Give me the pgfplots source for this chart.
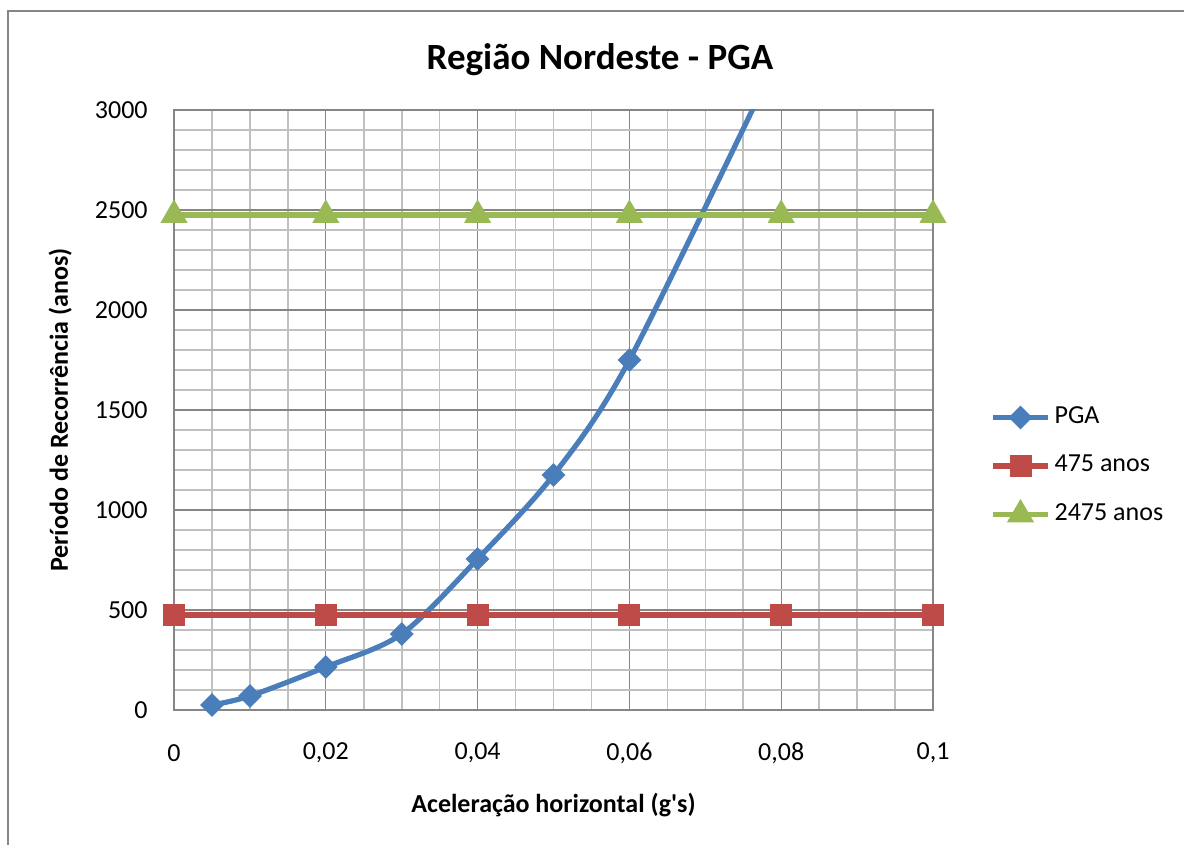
\documentclass[border=0pt]{standalone}
\usepackage{pgfplots}
\pgfplotsset{compat=1.18}
\usepackage{fontspec}
\setmainfont{Carlito}
\definecolor{pgablue}{HTML}{4A7EBB}
\definecolor{redline}{HTML}{BE4B48}
\definecolor{greenline}{HTML}{98B954}
\definecolor{gridmajor}{HTML}{868686}
\definecolor{gridminor}{HTML}{C0C0C0}
\newcommand{\chartfont}{\fontsize{13pt}{15pt}\selectfont}
\begin{document}
\begin{tikzpicture}
\useasboundingbox (0pt,0pt) rectangle (592pt,422.5pt);
\draw[gridmajor, line width=1pt] (4pt,-10pt) rectangle (600pt,417pt);
\begin{axis}[
    at={(87pt,67.5pt)}, anchor=south west,
    scale only axis, width=379.5pt, height=300pt,
    xmin=0, xmax=0.1, ymin=0, ymax=3000,
    xtick distance=0.02, ytick distance=500,
    minor x tick num=3, minor y tick num=4,
    grid=both,
    major grid style={gridmajor, line width=0.6pt},
    minor grid style={gridminor, line width=0.8pt},
    axis line style={gridmajor, line width=0.75pt},
    major tick length=0pt, minor tick length=0pt,
    clip mode=individual,
    ticklabel style={font=\chartfont},
    /pgf/number format/assume math mode=true,
    /pgf/number format/use comma,
    /pgf/number format/1000 sep={},
    xticklabel style={anchor=center, yshift=-21.5pt, /pgf/number format/fixed, /pgf/number format/precision=2},
    yticklabel style={anchor=east, inner sep=0pt, xshift=-13pt},
    xlabel={Aceleração horizontal (g\textquotesingle s)},
    ylabel={Período de Recorrência (anos)},
    label style={font=\chartfont\bfseries},
    xlabel style={at={(axis description cs:0.5,-0.158)}, anchor=center},
    ylabel style={at={(axis description cs:-0.150,0.5)}, anchor=center},
    legend style={at={(axis description cs:1.0751,0.4067)}, anchor=west,
        draw=none, fill=none, inner sep=0pt, font=\chartfont,
        row sep=12.25pt,
        nodes={inner sep=0pt, text height=9pt, text depth=3pt}},
    legend cell align=left,
    legend image code/.code={
        \draw[#1, mark=none] (0pt,0pt) -- (27.5pt,0pt);
        \draw[#1] plot coordinates {(13.75pt,0pt)};
        \path (29.5pt,0pt);
    },
]
\addplot[pgablue, line width=2.6pt, smooth, mark=square*, mark size=2.9pt,
    mark indices={1,...,7}, mark options={solid, rotate=45}]
    coordinates {
        (0.005,25) (0.01,70) (0.02,215) (0.03,380)
        (0.04,755) (0.05,1175) (0.06,1750) (0.08,3300)
    };
\addlegendentry{PGA}
\addplot[redline, line width=2.6pt, mark=square*, mark size=4.2pt]
    coordinates {
        (0,475) (0.02,475) (0.04,475) (0.06,475) (0.08,475) (0.1,475)
    };
\addlegendentry{475 anos}
\addplot[greenline, line width=2.6pt, mark=triangle*, mark size=5.2pt]
    coordinates {
        (0,2475) (0.02,2475) (0.04,2475) (0.06,2475) (0.08,2475) (0.1,2475)
    };
\addlegendentry{2475 anos}
\end{axis}
\node[font=\fontsize{18.5pt}{22pt}\selectfont\bfseries] at (300pt,392.5pt) {Região Nordeste - PGA};
\end{tikzpicture}
\end{document}
